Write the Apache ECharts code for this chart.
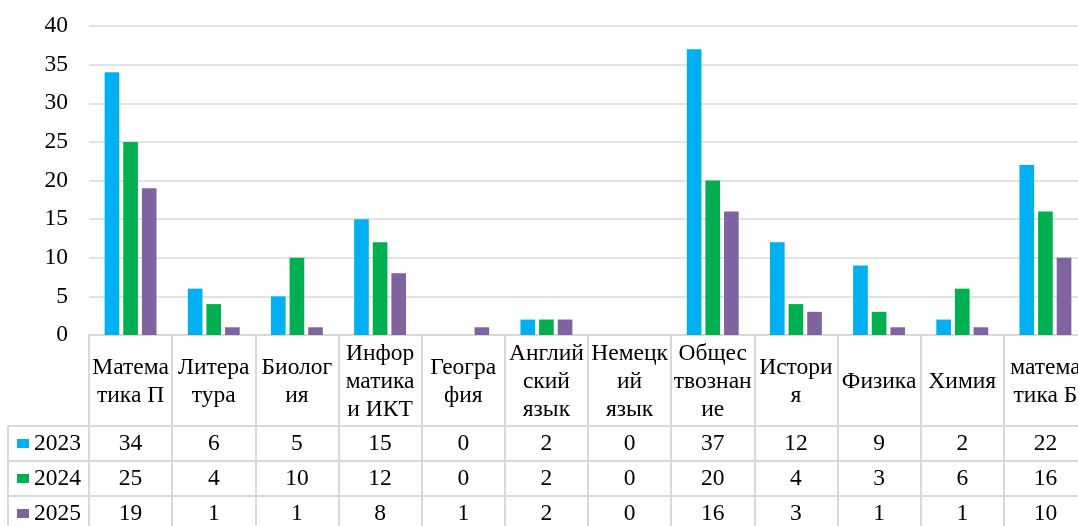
<!DOCTYPE html>
<html>
<head>
<meta charset="utf-8">
<script src="https://cdn.jsdelivr.net/npm/echarts@6/dist/echarts.min.js"></script>
<style>html,body{margin:0;padding:0;background:#fff;}#c{width:1078px;height:526px;}</style>
</head>
<body>
<div id="c"></div>
<script>
const categories = ["Матема\nтика П", "Литера\nтура", "Биолог\nия", "Инфор\nматика\nи ИКТ", "Геогра\nфия", "Англий\nский\nязык", "Немецк\nий\nязык", "Общес\nтвознан\nие", "Истори\nя", "Физика", "Химия", "матема\nтика Б"];
const years = ["2023", "2024", "2025"];
const v2023 = [34, 6, 5, 15, 0, 2, 0, 37, 12, 9, 2, 22];
const v2024 = [25, 4, 10, 12, 0, 2, 0, 20, 4, 3, 6, 16];
const v2025 = [19, 1, 1, 8, 1, 2, 0, 16, 3, 1, 1, 10];
const yTicks = { min: 0, max: 40, interval: 5 };

const FONT = "'Liberation Serif','Times New Roman',serif";
const colors = ["#00B0F0", "#00B050", "#8064A2"];
const LINE = "#D9D9D9";
const values = [v2023, v2024, v2025];

const chart = echarts.init(document.getElementById('c'), null, { renderer: 'canvas' });

const gridBottomY = 335;
const rowTops = [426, 461, 496];

const xAxes = [{
  type: 'category', data: categories, position: 'bottom', gridIndex: 0,
  axisLine: { show: true, lineStyle: { color: LINE, width: 2 } },
  axisTick: { show: true, interval: 0, length: 200, lineStyle: { color: LINE, width: 2 } },
  axisLabel: { interval: 0, color: '#000', fontFamily: FONT, fontSize: 23.5, lineHeight: 28,
    verticalAlign: 'middle', margin: 46.5, hideOverlap: false }
}];
values.forEach((arr, k) => {
  xAxes.push({
    type: 'category', data: categories, position: 'bottom', gridIndex: 0,
    offset: rowTops[k] - gridBottomY,
    axisLine: { show: true, lineStyle: { color: LINE, width: 2 } },
    axisTick: { show: false },
    axisLabel: { interval: 0, color: '#000', fontFamily: FONT, fontSize: 23.5,
      verticalAlign: 'middle', margin: 17.5, hideOverlap: false,
      formatter: (v, i) => String(arr[i]) }
  });
});

const legends = years.map((y, k) => ({
  data: [y], orient: 'vertical', left: 17, top: rowTops[k] + 5, padding: 0,
  icon: 'rect', itemWidth: 12, itemHeight: 9,
  textStyle: { fontFamily: FONT, fontSize: 23.5, color: '#000', lineHeight: 25 },
  selectedMode: false
}));

const option = {
  animation: false,
  color: colors,
  grid: { left: 89, width: 998, top: 26, bottom: 526 - gridBottomY, containLabel: false, outerBoundsMode: 'none' },
  legend: legends,
  xAxis: xAxes,
  yAxis: {
    type: 'value', min: yTicks.min, max: yTicks.max, interval: yTicks.interval,
    axisLine: { show: false }, axisTick: { show: false },
    splitLine: { lineStyle: { color: LINE, width: 1.5 } },
    axisLabel: { color: '#000', fontFamily: FONT, fontSize: 23.5, margin: 21 }
  },
  graphic: [
    { type: 'line', shape: { x1: 8, y1: rowTops[0], x2: 89, y2: rowTops[0] }, style: { stroke: LINE, lineWidth: 2 } },
    { type: 'line', shape: { x1: 8, y1: rowTops[1], x2: 89, y2: rowTops[1] }, style: { stroke: LINE, lineWidth: 2 } },
    { type: 'line', shape: { x1: 8, y1: rowTops[2], x2: 89, y2: rowTops[2] }, style: { stroke: LINE, lineWidth: 2 } },
    { type: 'line', shape: { x1: 8, y1: rowTops[0], x2: 8, y2: 526 }, style: { stroke: LINE, lineWidth: 2 } }
  ],
  series: years.map((y, k) => ({
    name: y, type: 'bar', xAxisIndex: 0, data: values[k],
    barCategoryGap: '37.6%', barGap: '27%',
    itemStyle: { color: colors[k] }
  }))
};
chart.setOption(option);
</script>
</body>
</html>
